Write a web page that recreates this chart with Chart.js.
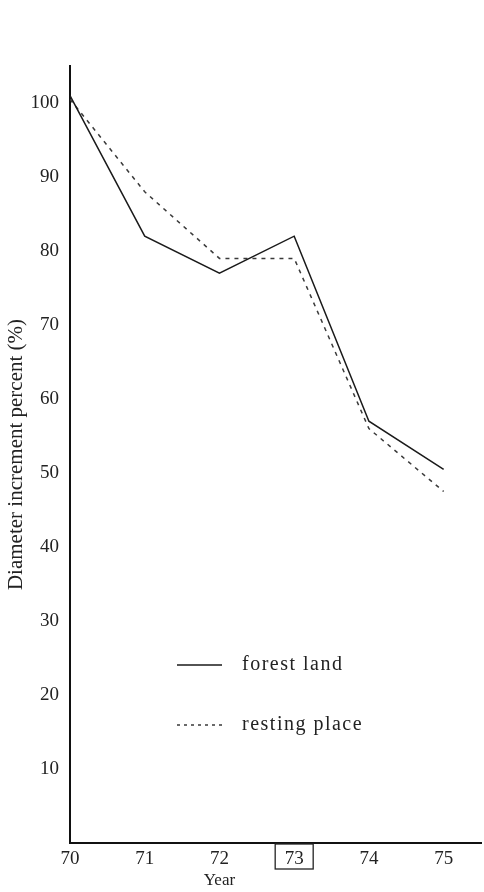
<!DOCTYPE html>
<html>
<head>
<meta charset="utf-8">
<script src="https://cdn.jsdelivr.net/npm/chart.js@4"></script>
<style>
  html, body { margin: 0; padding: 0; background: #fff; }
  #wrap { width: 484px; height: 892px; }
</style>
</head>
<body>
<div id="wrap"><canvas id="growthChart"></canvas></div>
<script>
  // Data
  const years = [70, 71, 72, 73, 74, 75];
  const forestLand = [101, 82, 77, 82, 57, 50.5];
  const restingPlace = [100.5, 88, 79, 79, 56, 47.5];
  const yTicks = [10, 20, 30, 40, 50, 60, 70, 80, 90, 100];

  const serif = '"Liberation Serif", "DejaVu Serif", serif';

  // Legend drawn inside the plot, the "Year" caption and the box round 73
  const extras = {
    id: 'extras',
    afterDraw(chart) {
      const ctx = chart.ctx;
      const xs = chart.scales.x;
      ctx.save();
      ctx.font = '20px ' + serif;
      ctx.fillStyle = '#222';
      ctx.textBaseline = 'middle';
      const items = [
        { text: 'forest land', y: 665, dash: [], ds: 0 },
        { text: 'resting place', y: 725, dash: [3, 4], ds: 1 }
      ];
      items.forEach(it => {
        const ds = chart.data.datasets[it.ds];
        ctx.strokeStyle = ds.borderColor;
        ctx.lineWidth = 1.3;
        ctx.setLineDash(it.dash);
        ctx.beginPath();
        ctx.moveTo(177, it.y);
        ctx.lineTo(222, it.y);
        ctx.stroke();
        ctx.setLineDash([]);
        ctx.letterSpacing = '1.5px';
        ctx.fillText(it.text, 242, it.y);
        ctx.letterSpacing = '0px';
      });

      // axis caption, sits under 72 in the original
      ctx.font = '17px ' + serif;
      ctx.textAlign = 'center';
      ctx.fillText('Year', xs.getPixelForValue(72), 881);

      // box round the 73 tick label
      const x73 = xs.getPixelForValue(73);
      ctx.strokeStyle = '#222';
      ctx.lineWidth = 1.3;
      ctx.strokeRect(x73 - 19, 844, 38, 25);
      ctx.restore();
    }
  };

  const ctx = document.getElementById('growthChart').getContext('2d');
  const growthChart = new Chart(ctx, {
    type: 'line',
    data: {
      datasets: [
        {
          label: 'forest land',
          data: years.map((y, i) => ({ x: y, y: forestLand[i] })),
          borderColor: '#1a1a1a',
          borderWidth: 1.5,
          pointRadius: 0,
          tension: 0
        },
        {
          label: 'resting place',
          data: years.map((y, i) => ({ x: y, y: restingPlace[i] })),
          borderColor: '#3a3a3a',
          borderWidth: 1.5,
          borderDash: [4, 5],
          pointRadius: 0,
          tension: 0
        }
      ]
    },
    options: {
      responsive: true,
      maintainAspectRatio: false,
      animation: false,
      layout: { padding: { top: 66, right: 3, left: 0, bottom: 0 } },
      plugins: { legend: { display: false }, tooltip: { enabled: false } },
      scales: {
        x: {
          type: 'linear',
          min: 70,
          max: 75.5,
          afterBuildTicks: s => { s.ticks = years.map(v => ({ value: v })); },
          afterFit: s => { s.height = 49; },
          grid: { display: false },
          border: { display: true, color: '#111', width: 2 },
          ticks: {
            color: '#222',
            font: { family: serif, size: 19 },
            padding: -3,
            maxRotation: 0
          }
        },
        y: {
          min: 0,
          max: 105,
          afterBuildTicks: s => { s.ticks = yTicks.map(v => ({ value: v })); },
          afterFit: s => { s.width = 70; },
          grid: { display: false },
          border: { display: true, color: '#111', width: 2 },
          ticks: {
            color: '#222',
            font: { family: serif, size: 19 },
            padding: 3
          },
          title: {
            display: true,
            text: 'Diameter increment percent (%)',
            color: '#222',
            font: { family: serif, size: 21 },
            padding: { top: 4, bottom: 0 }
          }
        }
      }
    },
    plugins: [extras]
  });
</script>
</body>
</html>
